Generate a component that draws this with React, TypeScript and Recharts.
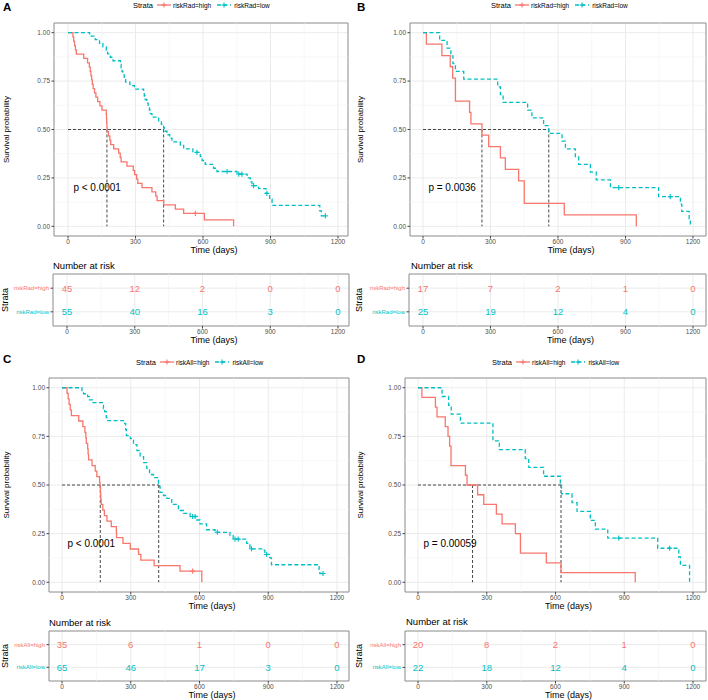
import React from 'react';
import { ComposedChart, Line, XAxis, YAxis, CartesianGrid, ReferenceLine, ReferenceArea, ReferenceDot, Label } from 'recharts';

const FONT = '"Liberation Sans", Arial, Helvetica, sans-serif';
const RED = '#F8766D';
const TEAL = '#00BFC4';
const GRID = '#e9e9e9';
const MINOR = '#f4f4f4';
const BORDER = '#8a8a8a';
const TICKC = '#4d4d4d';

// ---------- axis ticks ----------
const timeTicks = [0, 300, 600, 900, 1200];
const minorTimes = [150, 450, 750, 1050];
const survTicks = [0, 0.25, 0.5, 0.75, 1];
const minorSurv = [0.125, 0.375, 0.625, 0.875];

// ---------- Panel A (riskRad, cohort 1) ----------
const aHigh: [number, number][] = [[0,1],[22,0.978],[25,0.956],[29,0.933],[33,0.911],[37,0.889],[70,0.867],[87,0.844],[95,0.822],[99,0.8],[102,0.778],[105,0.756],[108,0.733],[112,0.711],[118,0.689],[124,0.667],[132,0.644],[142,0.622],[151,0.6],[170,0.578],[171,0.556],[172,0.533],[173,0.511],[174,0.489],[180,0.467],[186,0.444],[190,0.422],[203,0.4],[225,0.378],[232,0.356],[236,0.333],[262,0.311],[290,0.289],[296,0.267],[305,0.244],[310,0.222],[329,0.2],[373,0.178],[390,0.156],[396,0.133],[425,0.111],[477,0.089],[514,0.067],[606,0.033],[736,0]];
const aHighCens: [number, number][] = [[566,0.067]];
const aLow: [number, number][] = [[0,1],[96,0.982],[121,0.964],[140,0.945],[155,0.927],[170,0.909],[176,0.891],[188,0.873],[200,0.855],[233,0.836],[236,0.818],[240,0.8],[244,0.782],[250,0.764],[256,0.745],[275,0.727],[295,0.709],[336,0.691],[339,0.673],[343,0.655],[350,0.636],[356,0.618],[362,0.6],[366,0.582],[373,0.564],[403,0.545],[415,0.527],[425,0.509],[428,0.491],[440,0.473],[452,0.455],[462,0.436],[499,0.418],[514,0.4],[555,0.382],[588,0.36],[596,0.34],[610,0.32],[647,0.3],[662,0.283],[751,0.27],[796,0.25],[810,0.23],[818,0.21],[847,0.195],[880,0.17],[896,0.14],[907,0.108],[1119,0.08],[1126,0.054],[1144,0.054]];
const aLowCens: [number, number][] = [[573,0.382],[707,0.283],[759,0.27],[773,0.27],[825,0.21],[884,0.17],[1144,0.054]];
const aMedians = [173, 425];
const aRiskHigh = [45, 12, 2, 0, 0];
const aRiskLow = [55, 40, 16, 3, 0];

// ---------- Panel B (riskRad, cohort 2) ----------
const bHigh: [number, number][] = [[0,1],[15,0.941],[84,0.882],[121,0.824],[132,0.765],[144,0.647],[207,0.588],[213,0.529],[262,0.471],[292,0.412],[344,0.353],[366,0.294],[425,0.235],[450,0.118],[628,0.059],[948,0]];
const bHighCens: [number, number][] = [];
const bLow: [number, number][] = [[0,1],[74,0.96],[107,0.92],[124,0.88],[133,0.84],[144,0.8],[181,0.76],[332,0.72],[344,0.68],[356,0.64],[465,0.6],[484,0.56],[536,0.52],[559,0.48],[618,0.44],[633,0.4],[677,0.36],[692,0.32],[744,0.28],[770,0.24],[833,0.2],[1047,0.153],[1144,0.115],[1150,0.077],[1183,0.038],[1188,0]];
const bLowCens: [number, number][] = [[870,0.2],[1099,0.153]];
const bMedians = [262, 559];
const bRiskHigh = [17, 7, 2, 1, 0];
const bRiskLow = [25, 19, 12, 4, 0];

// ---------- Panel C (riskAll, cohort 1) ----------
const cHigh: [number, number][] = [[0,1],[22,0.971],[27,0.943],[31,0.914],[36,0.886],[41,0.857],[73,0.829],[91,0.8],[100,0.771],[104,0.743],[106,0.714],[112,0.686],[114,0.657],[116,0.629],[131,0.6],[145,0.571],[152,0.543],[164,0.514],[166,0.486],[168,0.457],[169,0.429],[171,0.4],[178,0.371],[185,0.343],[196,0.314],[215,0.286],[237,0.257],[238,0.229],[266,0.2],[298,0.171],[334,0.143],[344,0.114],[402,0.086],[515,0.057],[610,0]];
const cHighCens: [number, number][] = [[570,0.057]];
const cLow: [number, number][] = [[0,1],[87,0.985],[94,0.969],[112,0.954],[120,0.938],[135,0.923],[181,0.892],[186,0.877],[193,0.846],[200,0.831],[274,0.815],[278,0.785],[281,0.754],[298,0.738],[312,0.708],[327,0.677],[341,0.646],[356,0.615],[370,0.585],[382,0.554],[399,0.538],[421,0.508],[426,0.492],[428,0.462],[443,0.446],[457,0.431],[479,0.4],[508,0.369],[530,0.354],[559,0.338],[588,0.32],[602,0.3],[631,0.27],[668,0.257],[733,0.24],[747,0.222],[806,0.2],[820,0.172],[878,0.165],[885,0.143],[907,0.125],[914,0.09],[1122,0.06],[1125,0.045],[1139,0.045]];
const cLowCens: [number, number][] = [[570,0.338],[581,0.338],[678,0.257],[755,0.222],[769,0.222],[827,0.172],[893,0.143],[1139,0.045]];
const cMedians = [167, 422];
const cRiskHigh = [35, 6, 1, 0, 0];
const cRiskLow = [65, 46, 17, 3, 0];

// ---------- Panel D (riskAll, cohort 2) ----------
const dHigh: [number, number][] = [[0,1],[17,0.95],[76,0.9],[83,0.85],[119,0.8],[131,0.75],[138,0.7],[144,0.6],[207,0.55],[214,0.5],[260,0.45],[287,0.4],[342,0.35],[367,0.3],[425,0.25],[447,0.15],[560,0.1],[624,0.05],[948,0]];
const dHighCens: [number, number][] = [];
const dLow: [number, number][] = [[0,1],[105,0.955],[134,0.909],[145,0.864],[185,0.818],[327,0.727],[355,0.682],[468,0.636],[483,0.591],[548,0.545],[621,0.5],[626,0.455],[672,0.409],[694,0.364],[752,0.318],[774,0.273],[828,0.227],[1046,0.175],[1138,0.13],[1145,0.087],[1185,0]];
const dLowCens: [number, number][] = [[876,0.227],[1098,0.175]];
const dMedians = [238, 624];
const dRiskHigh = [20, 8, 2, 1, 0];
const dRiskLow = [22, 18, 12, 4, 0];

type Geo = { px: number; L: number; R: number; x0: number; x12: number; top: number; bottom: number };

const MT = 3;
const XH = 22;

function domainOf(g: Geo): [number, number] {
  const k = (g.x12 - g.x0) / 1200;
  return [-(g.x0 - g.L) / k, 1200 + (g.R - g.x12) / k];
}

const toPts = (a: [number, number][]) => a.map(([t, s]) => ({ t, s }));

function Plus({ cx, cy, color }: any) {
  if (cx == null || cy == null) return <g />;
  return (
    <g>
      <line x1={cx - 2.6} x2={cx + 2.6} y1={cy} y2={cy} stroke={color} strokeWidth={1.1} />
      <line x1={cx} x2={cx} y1={cy - 2.6} y2={cy + 2.6} stroke={color} strokeWidth={1.1} />
    </g>
  );
}

function KMPlot({ g, high, low, highC, lowC, med, p }: any) {
  const dom = domainOf(g);
  const yw = g.L - g.px;
  const ph = g.bottom - g.top;
  const width = g.R - g.px + 3;
  const height = MT + ph + XH;
  const xTitleX = yw + (g.R - g.L) / 2 + 13;
  const xTitleY = MT + ph + 14;
  const maxMed = Math.max(...med);
  return (
    <div style={{ position: 'absolute', left: g.px, top: g.top - MT }}>
      <ComposedChart width={width} height={height} margin={{ top: MT, right: 3, bottom: 0, left: 0 }}>
        <CartesianGrid stroke={GRID} strokeWidth={0.9} />
        {minorTimes.map((t) => <ReferenceLine key={'mx' + t} x={t} stroke={MINOR} strokeWidth={0.6} />)}
        {minorSurv.map((s) => <ReferenceLine key={'my' + s} y={s} stroke={MINOR} strokeWidth={0.6} />)}
        <XAxis type="number" dataKey="t" domain={dom} allowDataOverflow ticks={timeTicks} interval={0}
          tickSize={2.5} tickMargin={1} axisLine={false} tickLine={{ stroke: '#444' }}
          tick={{ fontSize: 6.5, fill: TICKC, fontFamily: FONT }} height={XH}>
          <Label content={() => (
            <text x={xTitleX} y={xTitleY} textAnchor="middle" dominantBaseline="central" fontSize={9} fontFamily={FONT} fill="#000">Time (days)</text>
          )} />
        </XAxis>
        <YAxis type="number" domain={[-0.05, 1.05]} allowDataOverflow ticks={survTicks} interval={0}
          tickFormatter={(v: any) => Number(v).toFixed(2)} width={yw}
          tickSize={2.5} tickMargin={1.5} axisLine={false} tickLine={{ stroke: '#444' }}
          tick={{ fontSize: 6.5, fill: TICKC, fontFamily: FONT }}>
          <Label content={() => (
            <text transform={`translate(6, ${MT + ph / 2}) rotate(-90)`} textAnchor="middle" dominantBaseline="central" fontSize={8} fontFamily={FONT} fill="#000">Survival probability</text>
          )} />
        </YAxis>
        <ReferenceLine segment={[{ x: 0, y: 0.5 }, { x: maxMed, y: 0.5 }]} stroke="#333" strokeDasharray="3 2" strokeWidth={0.9} />
        {med.map((m: number) => (
          <ReferenceLine key={'v' + m} segment={[{ x: m, y: 0.5 }, { x: m, y: 0 }]} stroke="#333" strokeDasharray="3 2" strokeWidth={0.9} />
        ))}
        <Line data={toPts(high)} dataKey="s" type="stepAfter" stroke={RED} strokeWidth={1.3} dot={false} activeDot={false} isAnimationActive={false} />
        <Line data={toPts(low)} dataKey="s" type="stepAfter" stroke={TEAL} strokeWidth={1.3} strokeDasharray="4 2.5" dot={false} activeDot={false} isAnimationActive={false} />
        <Line data={toPts(highC)} dataKey="s" stroke="none" activeDot={false} isAnimationActive={false}
          dot={(d: any) => <Plus key={'hc' + d.index} cx={d.cx} cy={d.cy} color={RED} />} />
        <Line data={toPts(lowC)} dataKey="s" stroke="none" activeDot={false} isAnimationActive={false}
          dot={(d: any) => <Plus key={'lc' + d.index} cx={d.cx} cy={d.cy} color={TEAL} />} />
        <ReferenceDot x={24} y={0.2} r={0} shape={(d: any) => (
          <text x={d.cx} y={d.cy} dominantBaseline="central" fontSize={10} fontFamily={FONT} fill="#000">{p}</text>
        )} />
        <ReferenceArea x1={dom[0]} x2={dom[1]} y1={-0.05} y2={1.05} fill="none" stroke={BORDER} strokeWidth={0.9} />
      </ComposedChart>
    </div>
  );
}

function RiskTable({ g, highN, lowN, hiName, loName }: any) {
  const dom = domainOf(g);
  const yw = g.L - g.px;
  const ph = g.bottom - g.top;
  const width = g.R - g.px + 3;
  const height = MT + ph + XH;
  const xTitleX = yw + (g.R - g.L) / 2 + 13;
  const xTitleY = MT + ph + 14;
  const hiData = timeTicks.map((t, i) => ({ t, r: 2, n: highN[i] }));
  const loData = timeTicks.map((t, i) => ({ t, r: 1, n: lowN[i] }));
  const num = (color: string, pre: string) => (d: any) => (
    <text key={pre + d.index} x={d.cx} y={d.cy} textAnchor="middle" dominantBaseline="central" fontSize={9.5} fontFamily={FONT} fill={color}>{d.payload.n}</text>
  );
  const yTick = (d: any) => {
    const v = Number(d.payload.value);
    return (
      <text x={d.x} y={d.y} textAnchor="end" dominantBaseline="central" fontSize={6} fontFamily={FONT} fill={v === 2 ? RED : TEAL}>{v === 2 ? hiName : loName}</text>
    );
  };
  return (
    <div style={{ position: 'absolute', left: g.px, top: g.top - MT }}>
      <ComposedChart width={width} height={height} margin={{ top: MT, right: 3, bottom: 0, left: 0 }}>
        <CartesianGrid stroke={GRID} strokeWidth={0.9} />
        {minorTimes.map((t) => <ReferenceLine key={'mx' + t} x={t} stroke={MINOR} strokeWidth={0.6} />)}
        <XAxis type="number" dataKey="t" domain={dom} allowDataOverflow ticks={timeTicks} interval={0}
          tickSize={2.5} tickMargin={1} axisLine={false} tickLine={{ stroke: '#444' }}
          tick={{ fontSize: 6.5, fill: TICKC, fontFamily: FONT }} height={XH}>
          <Label content={() => (
            <text x={xTitleX} y={xTitleY} textAnchor="middle" dominantBaseline="central" fontSize={9} fontFamily={FONT} fill="#000">Time (days)</text>
          )} />
        </XAxis>
        <YAxis type="number" domain={[0.4, 2.6]} allowDataOverflow ticks={[1, 2]} interval={0} width={yw}
          tickSize={2.5} tickMargin={1.5} axisLine={false} tickLine={{ stroke: '#444' }} tick={yTick}>
          <Label content={() => (
            <text transform={`translate(5, ${MT + ph / 2}) rotate(-90)`} textAnchor="middle" dominantBaseline="central" fontSize={9} fontFamily={FONT} fill="#000">Strata</text>
          )} />
        </YAxis>
        <Line data={hiData} dataKey="r" stroke="none" activeDot={false} isAnimationActive={false} dot={num(RED, 'h')} />
        <Line data={loData} dataKey="r" stroke="none" activeDot={false} isAnimationActive={false} dot={num(TEAL, 'l')} />
        <ReferenceArea x1={dom[0]} x2={dom[1]} y1={0.4} y2={2.6} fill="none" stroke={BORDER} strokeWidth={0.9} />
      </ComposedChart>
    </div>
  );
}

function LegendKey({ color, dashed }: { color: string; dashed?: boolean }) {
  return (
    <svg width={14} height={8} style={{ display: 'block' }}>
      <line x1={0} x2={14} y1={4} y2={4} stroke={color} strokeWidth={1.3} strokeDasharray={dashed ? '4 2.5' : undefined} />
      <line x1={4.5} x2={9.5} y1={4} y2={4} stroke={color} strokeWidth={1.1} />
      <line x1={7} x2={7} y1={1.5} y2={6.5} stroke={color} strokeWidth={1.1} />
    </svg>
  );
}

function StrataLegend({ x, y, hi, lo }: any) {
  return (
    <div style={{ position: 'absolute', left: x, top: y - 5, height: 10, display: 'flex', alignItems: 'center', fontFamily: FONT, whiteSpace: 'nowrap', color: '#000' }}>
      <span style={{ fontSize: 7.5 }}>Strata</span>
      <span style={{ marginLeft: 4 }}><LegendKey color={RED} /></span>
      <span style={{ fontSize: 6.5, marginLeft: 2 }}>{hi}</span>
      <span style={{ marginLeft: 6 }}><LegendKey color={TEAL} dashed /></span>
      <span style={{ fontSize: 6.5, marginLeft: 3 }}>{lo}</span>
    </div>
  );
}

function TextAt({ x, y, size, bold, children }: any) {
  return (
    <div style={{ position: 'absolute', left: x, top: y - size * 0.6, fontSize: size, fontWeight: bold ? 700 : 400, fontFamily: FONT, lineHeight: 1.2, whiteSpace: 'nowrap', color: '#000' }}>{children}</div>
  );
}

const geoPlotA: Geo = { px: 0, L: 54, R: 348, x0: 68, x12: 338, top: 23, bottom: 236 };
const geoPlotB: Geo = { px: 354, L: 410, R: 706, x0: 423, x12: 693, top: 23, bottom: 236 };
const geoPlotC: Geo = { px: 0, L: 49, R: 349, x0: 62, x12: 337, top: 378, bottom: 592 };
const geoPlotD: Geo = { px: 354, L: 405, R: 706, x0: 418, x12: 693, top: 378, bottom: 592 };
const geoTabA: Geo = { px: 0, L: 53, R: 349, x0: 67, x12: 338, top: 274, bottom: 326 };
const geoTabB: Geo = { px: 354, L: 409, R: 706, x0: 423, x12: 693, top: 274, bottom: 326 };
const geoTabC: Geo = { px: 0, L: 49, R: 349, x0: 62, x12: 337, top: 631, bottom: 681 };
const geoTabD: Geo = { px: 354, L: 405, R: 706, x0: 418, x12: 693, top: 631, bottom: 681 };

export default function App() {
  return (
    <div style={{ position: 'absolute', left: 0, top: 0, width: 708, height: 700, background: '#fff', overflow: 'hidden', fontFamily: FONT }}>
      {/* Panel A */}
      <TextAt x={3} y={8} size={11.5} bold>A</TextAt>
      <StrataLegend x={133} y={5} hi="riskRad=high" lo="riskRad=low" />
      <KMPlot g={geoPlotA} high={aHigh} low={aLow} highC={aHighCens} lowC={aLowCens} med={aMedians} p="p < 0.0001" />
      <TextAt x={53} y={266} size={9.5}>Number at risk</TextAt>
      <RiskTable g={geoTabA} highN={aRiskHigh} lowN={aRiskLow} hiName="riskRad=high" loName="riskRad=low" />

      {/* Panel B */}
      <TextAt x={357} y={8} size={11.5} bold>B</TextAt>
      <StrataLegend x={491} y={5} hi="riskRad=high" lo="riskRad=low" />
      <KMPlot g={geoPlotB} high={bHigh} low={bLow} highC={bHighCens} lowC={bLowCens} med={bMedians} p="p = 0.0036" />
      <TextAt x={411} y={266} size={9.5}>Number at risk</TextAt>
      <RiskTable g={geoTabB} highN={bRiskHigh} lowN={bRiskLow} hiName="riskRad=high" loName="riskRad=low" />

      {/* Panel C */}
      <TextAt x={3} y={360} size={11.5} bold>C</TextAt>
      <StrataLegend x={136} y={362} hi="riskAll=high" lo="riskAll=low" />
      <KMPlot g={geoPlotC} high={cHigh} low={cLow} highC={cHighCens} lowC={cLowCens} med={cMedians} p="p < 0.0001" />
      <TextAt x={49} y={623} size={9.5}>Number at risk</TextAt>
      <RiskTable g={geoTabC} highN={cRiskHigh} lowN={cRiskLow} hiName="riskAll=high" loName="riskAll=low" />

      {/* Panel D */}
      <TextAt x={357} y={360} size={11.5} bold>D</TextAt>
      <StrataLegend x={492} y={362} hi="riskAll=high" lo="riskAll=low" />
      <KMPlot g={geoPlotD} high={dHigh} low={dLow} highC={dHighCens} lowC={dLowCens} med={dMedians} p="p = 0.00059" />
      <TextAt x={406} y={622} size={9.5}>Number at risk</TextAt>
      <RiskTable g={geoTabD} highN={dRiskHigh} lowN={dRiskLow} hiName="riskAll=high" loName="riskAll=low" />
    </div>
  );
}
